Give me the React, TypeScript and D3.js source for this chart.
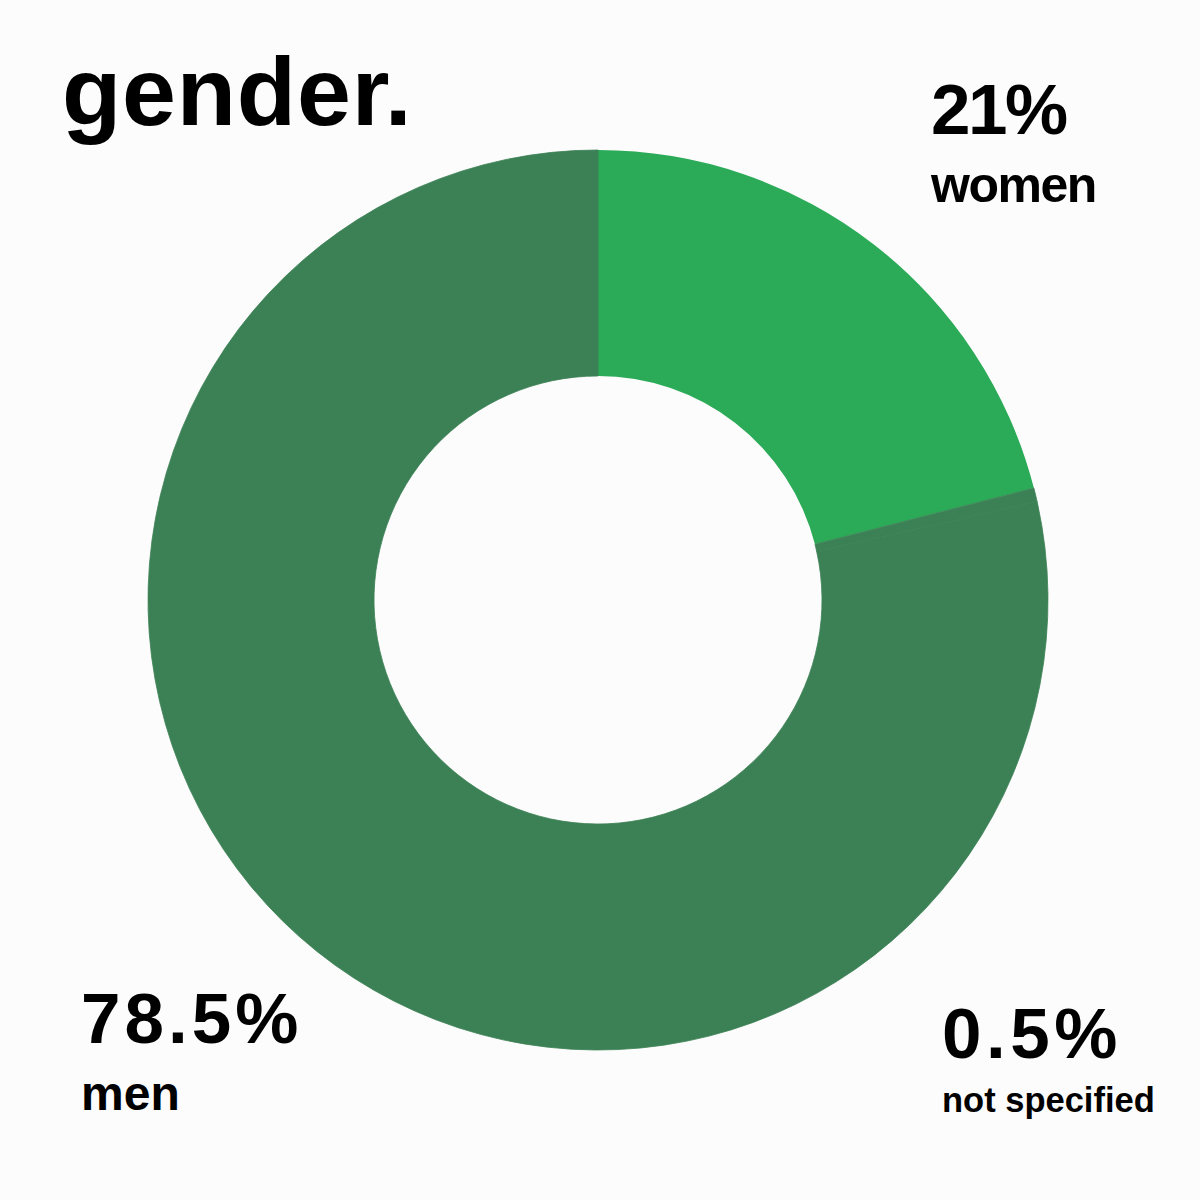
import React from "react";
import * as d3 from "d3";

const categories = ["women", "not specified", "men"];
const shares = [21, 0.5, 78.5];
const valueLabels = ["21%", "0.5%", "78.5%"];
const sliceColors = ["#2BAA57", "#3C8155", "#3C8155"];

const W = 1200;
const H = 1200;
const cx = 598;
const cy = 600;
const outerR = 450;
const innerR = 224;

const FONT = "'Liberation Sans', Arial, sans-serif";

export default function App() {
  const pie = d3.pie<number>().sort(null).value((d) => d);
  const arcs = pie(shares);
  const arc = d3.arc<d3.PieArcDatum<number>>().innerRadius(innerR).outerRadius(outerR);

  return (
    <svg width={W} height={H} viewBox={`0 0 ${W} ${H}`} style={{ display: "block", position: "absolute", left: 0, top: 0 }}>
      <rect width={W} height={H} fill="#FCFCFC" />
      <g transform={`translate(${cx},${cy})`}>
        {arcs.map((a, i) => (
          <path
            key={categories[i]}
            d={arc(a) || ""}
            fill={sliceColors[i]}
            stroke={i === 0 ? "none" : sliceColors[i]}
            strokeWidth={0.8}
          />
        ))}
      </g>
      <text x={62} y={125} fontFamily={FONT} fontWeight={700} fontSize={97} letterSpacing={0.8} fill="#000">
        gender.
      </text>
      {/* women */}
      <text x={931} y={134} fontFamily={FONT} fontWeight={700} fontSize={71} letterSpacing={-2.5} fill="#000">
        {valueLabels[0]}
      </text>
      <text x={931} y={202} fontFamily={FONT} fontWeight={700} fontSize={50} letterSpacing={-1.5} fill="#000">
        {categories[0]}
      </text>
      {/* men */}
      <text x={81} y={1043} fontFamily={FONT} fontWeight={700} fontSize={71} letterSpacing={4} fill="#000">
        {valueLabels[2]}
      </text>
      <text x={81} y={1110} fontFamily={FONT} fontWeight={700} fontSize={48} fill="#000">
        {categories[2]}
      </text>
      {/* not specified */}
      <text x={942} y={1058} fontFamily={FONT} fontWeight={700} fontSize={71} letterSpacing={4.5} fill="#000">
        {valueLabels[1]}
      </text>
      <text x={942} y={1112} fontFamily={FONT} fontWeight={700} fontSize={34.5} fill="#000">
        {categories[1]}
      </text>
    </svg>
  );
}
